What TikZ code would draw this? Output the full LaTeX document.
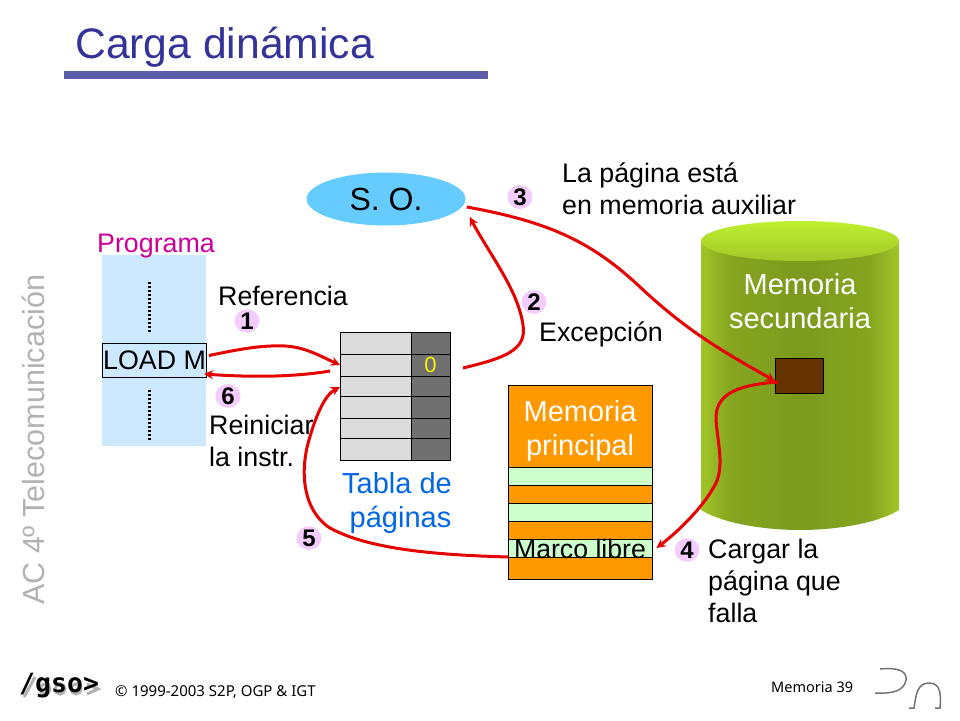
\documentclass[tikz,border=0pt]{standalone}
\usepackage{fontspec}
\setmainfont{Liberation Sans}
\newfontfamily\footfont{Noto Sans}
\newfontfamily\logofont{DejaVu Sans Mono}
\usetikzlibrary{positioning, shapes.geometric}
\definecolor{titleblue}{HTML}{333399}
\definecolor{rulecol}{HTML}{5C5CA8}
\definecolor{progblue}{HTML}{CCE9FF}
\definecolor{magentatxt}{HTML}{CC0099}
\definecolor{tabblue}{HTML}{0066E6}
\definecolor{sokyblue}{HTML}{66CCFF}
\definecolor{memorange}{HTML}{FF9900}
\definecolor{memgreen}{HTML}{CCFFCC}
\definecolor{badgepink}{HTML}{F5CCFF}
\definecolor{arrowred}{HTML}{E60000}
\definecolor{brownbox}{HTML}{663300}
\definecolor{cylside}{HTML}{A2C628}
\definecolor{cylnear}{HTML}{86A620}
\definecolor{cylmid}{HTML}{7B9A1E}
\definecolor{cyltop}{HTML}{C0F030}
\pgfdeclarehorizontalshading{cylbody}{100bp}{color(0bp)=(cylside); color(25bp)=(cylside); color(32bp)=(cylnear); color(50bp)=(cylmid); color(68bp)=(cylnear); color(75bp)=(cylside); color(100bp)=(cylside)}
\tikzset{
  txt/.style={inner sep=0pt, align=left, font=\fontsize{26.8}{32}\selectfont},
  bigtxt/.style={inner sep=0pt, align=center, font=\fontsize{29}{34.5}\selectfont},
  foot/.style={inner sep=0pt, anchor=base west, font=\footfont\fontsize{15}{15}\selectfont},
  badge/.style={ellipse, fill=badgepink, inner sep=0pt, minimum width=25pt, minimum height=21pt, font=\fontsize{24}{24}\selectfont\bfseries},
  lightrow/.style={draw, fill=black!14, inner sep=0pt, outer sep=0pt, minimum width=71pt, line width=1pt},
  darkrow/.style={draw, fill=black!56, inner sep=0pt, outer sep=0pt, minimum width=39pt, line width=1pt},
  orangerow/.style={draw, fill=memorange, inner sep=0pt, outer sep=0pt, minimum width=144pt, line width=1pt},
  greenrow/.style={draw, fill=memgreen, inner sep=0pt, outer sep=0pt, minimum width=144pt, line width=1pt},
  redarrow/.style={->, draw=arrowred, line width=3pt},
  dotline/.style={line width=3pt, dash pattern=on 2.4pt off 1.6pt},
  logoline/.style={black!55, line width=1.5pt},
  logoshadow/.style={black!30, line width=3pt},
}
\begin{document}
\begin{tikzpicture}[x=1pt, y=-1pt, >=stealth, node distance=0pt]
  \useasboundingbox (0,0) rectangle (960,720);
  % Title
  \node[txt, anchor=base west, text=titleblue, font=\fontsize{42.67}{44}\selectfont] (title) at (75,58) {Carga din\'amica};
  \fill[rulecol] (64,71) rectangle (488,79);
  % Side text and footer
  \node[rotate=90, anchor=base west, inner sep=0pt, text=black!30, font=\fontsize{30.5}{31}\selectfont] (side) at (44,605) {AC 4º Telecomunicaci\'on};
  \draw[logoshadow] (24,697) -- (35,677);
  \draw[logoshadow] (45,689) circle [radius=5];
  \draw[logoshadow] (60,689) circle [radius=5];
  \draw[logoshadow] (76,689) circle [radius=5];
  \draw[logoshadow] (87,684) -- (98,689) -- (87,694);
  \node[foot, font=\logofont\bfseries\fontsize{26.5}{26}\selectfont] (gso) at (19,692) {/gso>};
  \node[foot] (copy) at (115,696) {© 1999-2003 S2P, OGP \& IGT};
  \node[foot, font=\footfont\fontsize{14.5}{15}\selectfont] (page) at (771,692) {Memoria 39};
  \draw[logoline] (880,669) .. controls (900,667) and (907,672) .. (906,680) .. controls (904,690) and (895,694) .. (875,693);
  \draw[logoline] (909,708) -- (914,708) .. controls (916,695) and (917,683) .. (929,683) .. controls (941,683) and (941,695) .. (940,708) -- (935,708);
  % Program
  \node[fill=progblue, inner sep=0pt, minimum width=104pt, minimum height=191pt, anchor=north west] (prog) at (102,255) {};
  \node[txt, anchor=base, text=magentatxt] (proglabel) at (156,252) {Programa};
  \node[draw, txt, align=center, minimum width=104pt, minimum height=34pt, line width=1pt, anchor=north west] (load) at (102,343) {LOAD M};
  \coordinate (dotsa) at (149,282);
  \coordinate (dotsb) at (149,333);
  \coordinate (dotsc) at (149,390);
  \coordinate (dotsd) at (149,441);
  \draw[dotline] (dotsa) -- (dotsb);
  \draw[dotline] (dotsc) -- (dotsd);
  % Page table
  \node[lightrow, minimum height=22pt, anchor=north west] (rowa) at (340,332) {};
  \node[lightrow, minimum height=22pt, below=of rowa] (rowb) {};
  \node[lightrow, minimum height=20pt, below=of rowb] (rowc) {};
  \node[lightrow, minimum height=22pt, below=of rowc] (rowd) {};
  \node[lightrow, minimum height=20pt, below=of rowd] (rowe) {};
  \node[lightrow, minimum height=22pt, below=of rowe] (rowf) {};
  \node[darkrow, minimum height=22pt, right=of rowa] (bita) {};
  \node[darkrow, minimum height=22pt, right=of rowb, text=yellow, font=\fontsize{22}{22}\selectfont] (bitb) {0};
  \node[darkrow, minimum height=20pt, right=of rowc] (bitc) {};
  \node[darkrow, minimum height=22pt, right=of rowd] (bitd) {};
  \node[darkrow, minimum height=20pt, right=of rowe] (bite) {};
  \node[darkrow, minimum height=22pt, right=of rowf] (bitf) {};
  \node[bigtxt, text=tabblue, anchor=north] (tablabel) at (397,472) {Tabla de\\ \hspace*{7pt}p\'aginas};
  % Main memory
  \node[orangerow, minimum height=82pt, anchor=north west] (mphead) at (508.5,385) {};
  \node[greenrow, minimum height=18pt, below=of mphead] (mpa) {};
  \node[orangerow, minimum height=18pt, below=of mpa] (mpb) {};
  \node[greenrow, minimum height=18pt, below=of mpb] (mpc) {};
  \node[orangerow, minimum height=18pt, below=of mpc] (mpd) {};
  \node[greenrow, minimum height=18pt, below=of mpd] (mpfree) {};
  \node[orangerow, minimum height=22pt, below=of mpfree] (mpe) {};
  \node[bigtxt, text=white, anchor=north] (mplabel) at (580,400) {Memoria\\ principal};
  \node[txt, anchor=base, font=\fontsize{26.67}{32}\selectfont] (freelabel) at (580,558) {Marco libre};
  % Secondary memory
  \shade[shading=cylbody] (701,241) -- (701,510) .. controls (720,522) and (760,530) .. (800,530) .. controls (840,530) and (880,522) .. (899,510) -- (899,241) -- cycle;
  \shade[top color=cyltop, bottom color=cylside] (800,241) ellipse [x radius=99, y radius=20];
  \node[bigtxt, text=white, anchor=north] (seclabel) at (800,273) {Memoria\\ secundaria};
  \node[draw, fill=brownbox, inner sep=0pt, minimum width=48pt, minimum height=35pt, line width=1pt, anchor=north west] (page4) at (775,358) {};
  % Operating system
  \node[ellipse, fill=sokyblue, inner sep=0pt, minimum width=159pt, minimum height=53pt, font=\fontsize{32}{32}\selectfont] (so) at (386,199) {S. O.};
  % Labels
  \node[txt, anchor=base west] (reflabel) at (218,305) {Referencia};
  \node[txt, anchor=north west] (restart) at (209,415) {Reiniciar\\ la instr.};
  \node[txt, anchor=base west] (exclabel) at (539,341) {Excepci\'on};
  \node[txt, anchor=north west] (auxlabel) at (562,163) {La p\'agina est\'a\\ en memoria auxiliar};
  \node[txt, anchor=north west] (loadlabel) at (708,539) {Cargar la\\ p\'agina que\\ falla};
  % Badges
  \node[badge] (one) at (247,321) {1};
  \node[badge] (two) at (534,302) {2};
  \node[badge] (three) at (520,197) {3};
  \node[badge] (four) at (687,550) {4};
  \node[badge] (five) at (309,538) {5};
  \node[badge] (six) at (228,396) {6};
  % Arrows
  \draw[redarrow] ([shift={(2,-5)}]load.east) .. controls (240,349) and (262,345) .. (285,346) .. controls (305,347) and (320,356) .. (rowb.west);
  \draw[redarrow] ([shift={(-10,6)}]rowb.west) .. controls (300,376) and (260,378) .. ([shift={(-3,-4)}]load.south east);
  \draw[redarrow] ([shift={(13,3)}]bitb.east) .. controls (505,358) and (527,350) .. (523,325) .. controls (518,290) and (490,255) .. ([shift={(4,18)}]so.east);
  \draw[redarrow] ([shift={(1,8)}]so.east) .. controls (550,222) and (592,242) .. (640,287) .. controls (686,330) and (720,350) .. ([yshift=-5]page4.west);
  \draw[redarrow] ([shift={(3,6)}]page4.west) .. controls (735,385) and (715,395) .. (716,420) .. controls (718,445) and (724,465) .. (716,483) .. controls (705,505) and (680,530) .. ([shift={(4,0)}]mpfree.east);
  \draw[redarrow] (mpfree.south west) .. controls (440,555) and (370,550) .. (330,528) .. controls (302,510) and (300,470) .. (309,440) .. controls (316,415) and (325,395) .. ([yshift=-11]rowb.south west);
\end{tikzpicture}
\end{document}
